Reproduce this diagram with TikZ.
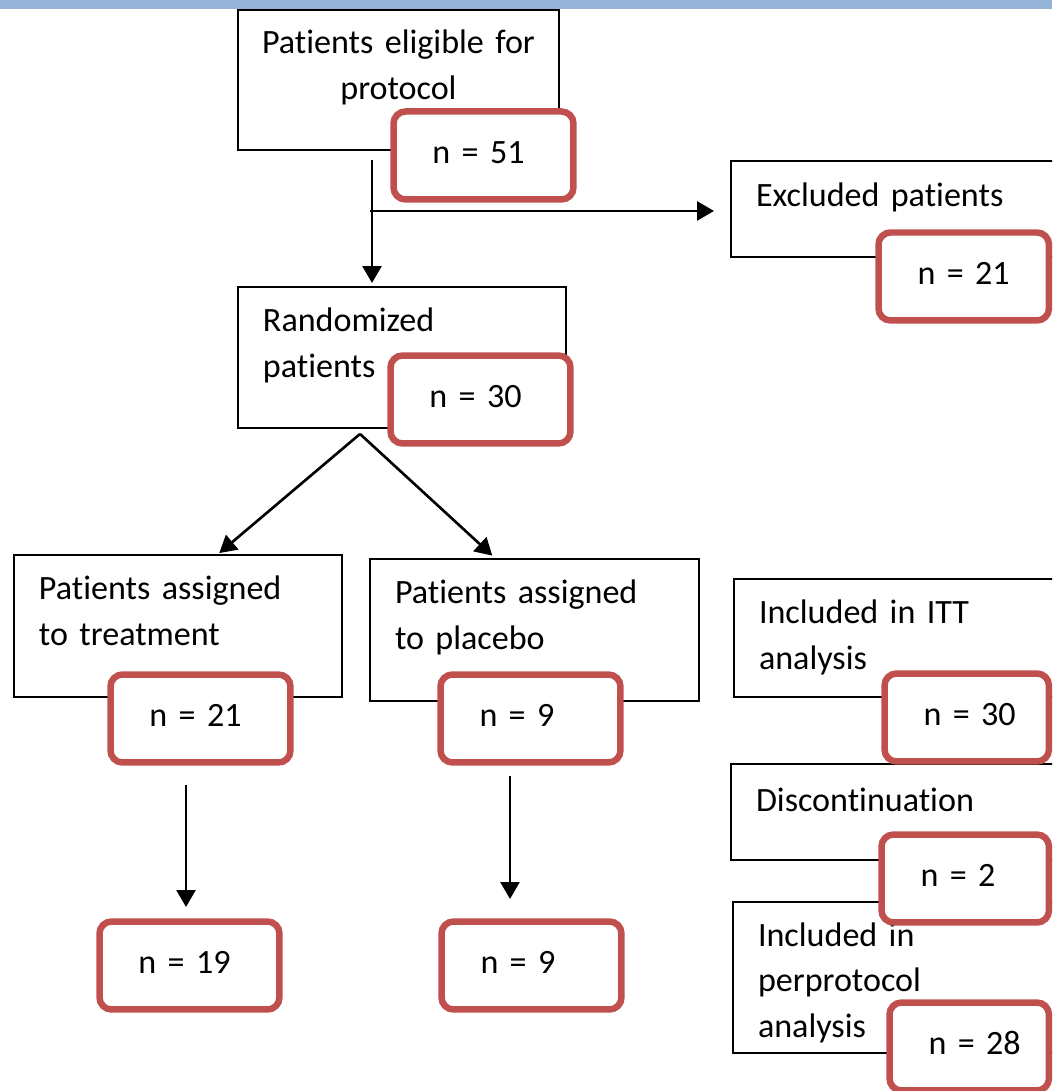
\documentclass[tikz,border=0pt]{standalone}
\usepackage{fontspec}
\setmainfont{Carlito}[Ligatures=NoCommon]
\usepackage{tikz}
\usetikzlibrary{arrows.meta, calc}
\definecolor{countred}{HTML}{C0504D}
\definecolor{headblue}{HTML}{95B3D7}
\tikzset{
    arrow/.style={line width=1.5pt, -{Triangle[length=0.34cm, width=0.38cm]}}
}

\begin{document}
\begin{tikzpicture}[x=0.02cm, y=-0.02cm,
    flowbox/.style={rectangle, draw=black, line width=1.2pt, anchor=north west, outer sep=0pt, align=left, inner xsep=0.5cm, inner ysep=0pt, font=\fontsize{19.4pt}{26pt}\selectfont},
    countbox/.style={rectangle, rounded corners=0.24cm, draw=countred, line width=0.13cm, fill=white, anchor=north west, outer sep=0pt, align=left, inner xsep=0.78cm, inner ysep=0pt, text height=1.04cm, text depth=0.72cm, text width=#1, font=\fontsize{19.4pt}{26pt}\selectfont},
    countbox/.default=2.04cm
]
    \useasboundingbox (0,0) rectangle (1052,1091);
    \clip (0,0) rectangle (1052,1091);
    % header band
    \fill[headblue] (0,0) rectangle (1052,9);

    % Main flow boxes
    \node[flowbox, align=center, inner xsep=0pt, text width=6.42cm, text height=0.88cm, text depth=1.92cm] (eligible) at (238,10) {Patients eligible for\\protocol};
    \node[flowbox, text width=5.56cm, text height=0.90cm, text depth=1.92cm] (randomized) at (238,287) {Randomized\\patients};
    \node[flowbox, text width=5.78cm, text height=0.92cm, text depth=1.00cm] (excluded) at (731,161) {Excluded patients};
    \node[flowbox, text width=5.56cm, text height=0.90cm, text depth=1.94cm] (treatment) at (14,555) {Patients assigned\\to treatment};
    \node[flowbox, text width=5.58cm, text height=0.90cm, text depth=1.94cm] (placebo) at (370,559) {Patients assigned\\to placebo};

    % Analysis column
    \node[flowbox, text width=5.72cm, text height=0.90cm, text depth=1.46cm] (itt) at (734,579) {Included in ITT\\analysis};
    \node[flowbox, text width=5.78cm, text height=0.94cm, text depth=0.98cm] (discont) at (731,764) {Discontinuation};
    \node[flowbox, text width=5.74cm, text height=0.88cm, text depth=2.14cm] (perprotocol) at (733,902) {Included in\\perprotocol\\analysis};

    % Counts
    \node[countbox] (eligible-n) at (393.5,111.5) {n~=~51};
    \node[countbox] (randomized-n) at (390.5,355.5) {n~=~30};
    \node[countbox=1.85cm] (excluded-n) at (878.5,232.5) {n~=~21};
    \node[countbox] (treatment-n) at (110.5,674.5) {n~=~21};
    \node[countbox] (placebo-n) at (440.5,674.5) {n~=~9};
    \node[countbox] (treatment-end) at (99.5,921.5) {n~=~19};
    \node[countbox] (placebo-end) at (441.5,921.5) {n~=~9};
    \node[countbox=1.73cm] (itt-n) at (884.5,673.5) {n~=~30};
    \node[countbox=1.79cm] (discont-n) at (881.5,834.5) {n~=~2};
    \node[countbox=1.63cm] (perprotocol-n) at (889.5,1002.5) {n~=~28};

    % Connectors
    \coordinate (split) at ($(eligible.south west)+(134,61)$);
    \coordinate (fork) at ($(randomized.south west)+(122,6)$);
    \draw[arrow, shorten <=0.2cm, shorten >=0.08cm] (split |- eligible.south) -- (split |- randomized.north);
    \draw[arrow, shorten >=0.34cm] ([xshift=-0.04cm]split) -- (split -| excluded.west);
    \draw[arrow, shorten >=0.06cm] (fork) -- ($(treatment.north west)+(203,0)$);
    \draw[arrow, shorten >=0.1cm] (fork) -- ($(placebo.north west)+(126,0)$);
    \draw[arrow] ($(treatment-n.south west)+(75.5,22.5)$) -- ($(treatment-end.north west)+(86.5,-14.5)$);
    \draw[arrow] ($(placebo-n.south west)+(69.5,13.5)$) -- ($(placebo-end.north west)+(68.5,-22.5)$);
\end{tikzpicture}
\end{document}
